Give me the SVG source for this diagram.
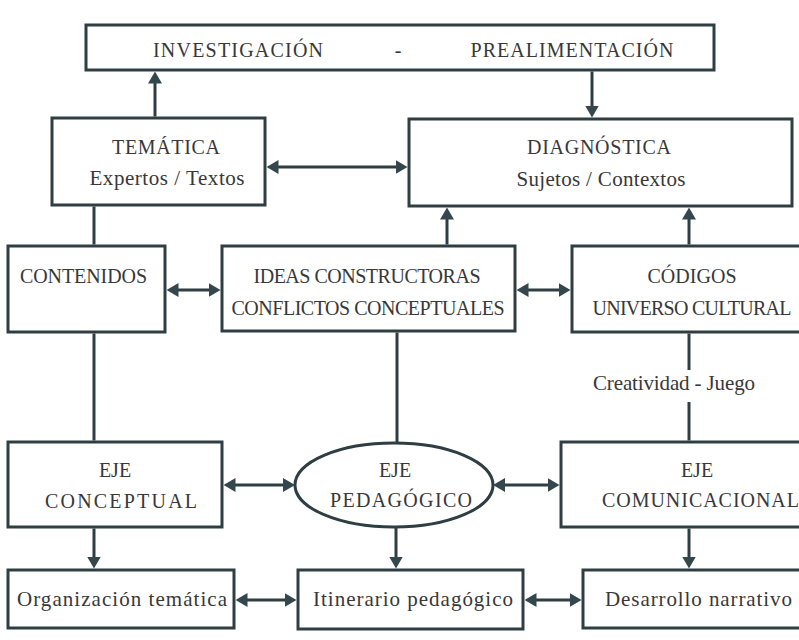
<svg xmlns="http://www.w3.org/2000/svg" width="799" height="640" viewBox="0 0 799 640">
<style>
.box{fill:#ffffff;stroke:#2f3e43;stroke-width:3}
.ln{stroke:#2f3e43;stroke-width:3;fill:none}
.t{font-family:'Liberation Serif','Times New Roman',serif;font-size:20px;fill:#383838;text-anchor:middle}
.l{font-family:'Liberation Serif','Times New Roman',serif;font-size:21px;fill:#383838;text-anchor:middle}
</style>
<defs>
<marker id="ah" viewBox="0 0 12 14" markerWidth="12" markerHeight="14" refX="4" refY="7" orient="auto-start-reverse" markerUnits="userSpaceOnUse">
<path d="M0,0 L12,7 L0,14 z" fill="#34474d"/>
</marker>
</defs>
<rect width="799" height="640" fill="#ffffff"/>

<g id="connectors">
<line class="ln" x1="155" y1="116.5" x2="155" y2="79.5" marker-end="url(#ah)"/>
<line class="ln" x1="592" y1="71.5" x2="592" y2="109.5" marker-end="url(#ah)"/>
<line class="ln" x1="274.5" y1="167" x2="399.5" y2="167" marker-start="url(#ah)" marker-end="url(#ah)"/>
<line class="ln" x1="94" y1="206.5" x2="94" y2="244.5"/>
<line class="ln" x1="94" y1="333.5" x2="94" y2="440.5"/>
<line class="ln" x1="174.5" y1="290" x2="212.5" y2="290" marker-start="url(#ah)" marker-end="url(#ah)"/>
<line class="ln" x1="447" y1="244.5" x2="447" y2="215.5" marker-end="url(#ah)"/>
<line class="ln" x1="689" y1="244.5" x2="689" y2="215.5" marker-end="url(#ah)"/>
<line class="ln" x1="524.5" y1="290" x2="562.5" y2="290" marker-start="url(#ah)" marker-end="url(#ah)"/>
<line class="ln" x1="397" y1="332.5" x2="397" y2="443"/>
<line class="ln" x1="689" y1="333.5" x2="689" y2="370"/>
<line class="ln" x1="689" y1="402" x2="689" y2="440.5"/>
<line class="ln" x1="231.5" y1="485" x2="287" y2="485" marker-start="url(#ah)" marker-end="url(#ah)"/>
<line class="ln" x1="501" y1="485" x2="551.5" y2="485" marker-start="url(#ah)" marker-end="url(#ah)"/>
<line class="ln" x1="94" y1="528.5" x2="94" y2="560.5" marker-end="url(#ah)"/>
<line class="ln" x1="396" y1="527" x2="396" y2="560.5" marker-end="url(#ah)"/>
<line class="ln" x1="689" y1="528.5" x2="689" y2="560.5" marker-end="url(#ah)"/>
<line class="ln" x1="243.5" y1="600" x2="288.5" y2="600" marker-start="url(#ah)" marker-end="url(#ah)"/>
<line class="ln" x1="532.5" y1="600" x2="573.5" y2="600" marker-start="url(#ah)" marker-end="url(#ah)"/>
<text class="l" x="674" y="390" textLength="162">Creatividad - Juego</text>
</g>

<g id="investigacion">
<rect class="box" x="86" y="25" width="628" height="45"/>
<text class="t" x="238" y="57" textLength="170">INVESTIGACIÓN</text>
<text class="t" x="398" y="57">-</text>
<text class="t" x="572" y="57" textLength="203">PREALIMENTACIÓN</text>
</g>

<g id="tematica">
<rect class="box" x="52" y="118" width="213" height="87"/>
<text class="t" x="166" y="154" textLength="108">TEMÁTICA</text>
<text class="l" x="167" y="185" textLength="155">Expertos / Textos</text>
</g>

<g id="diagnostica">
<rect class="box" x="409" y="119" width="383" height="87"/>
<text class="t" x="599" y="154" textLength="144">DIAGNÓSTICA</text>
<text class="l" x="601" y="186" textLength="169">Sujetos / Contextos</text>
</g>

<g id="contenidos">
<rect class="box" x="8" y="246" width="157" height="86"/>
<text class="t" x="83.5" y="283" textLength="127">CONTENIDOS</text>
</g>

<g id="ideas">
<rect class="box" x="222" y="246" width="293" height="85"/>
<text class="t" x="367" y="283" textLength="227">IDEAS CONSTRUCTORAS</text>
<text class="t" x="368" y="315" textLength="273">CONFLICTOS CONCEPTUALES</text>
</g>

<g id="codigos">
<rect class="box" x="572" y="246" width="240" height="86"/>
<text class="t" x="692" y="283" textLength="89">CÓDIGOS</text>
<text class="t" x="692" y="315" textLength="199">UNIVERSO CULTURAL</text>
</g>

<g id="eje-conceptual">
<rect class="box" x="8" y="442" width="214" height="85"/>
<text class="t" x="115" y="477">EJE</text>
<text class="t" x="121" y="508" textLength="152">CONCEPTUAL</text>
</g>

<g id="eje-pedagogico">
<ellipse class="box" cx="394" cy="485" rx="99" ry="42"/>
<text class="t" x="395" y="477">EJE</text>
<text class="t" x="401" y="507" textLength="142">PEDAGÓGICO</text>
</g>

<g id="eje-comunicacional">
<rect class="box" x="561" y="442" width="250" height="85"/>
<text class="t" x="697" y="477">EJE</text>
<text class="t" x="700.5" y="507" textLength="197">COMUNICACIONAL</text>
</g>

<g id="organizacion">
<rect class="box" x="8" y="570" width="226" height="58"/>
<text class="l" x="122" y="606" textLength="210">Organización temática</text>
</g>

<g id="itinerario">
<rect class="box" x="298" y="570" width="225" height="59"/>
<text class="l" x="413" y="606" textLength="200">Itinerario pedagógico</text>
</g>

<g id="desarrollo">
<rect class="box" x="583" y="570" width="230" height="58"/>
<text class="l" x="698.5" y="606" textLength="187">Desarrollo narrativo</text>
</g>
</svg>
